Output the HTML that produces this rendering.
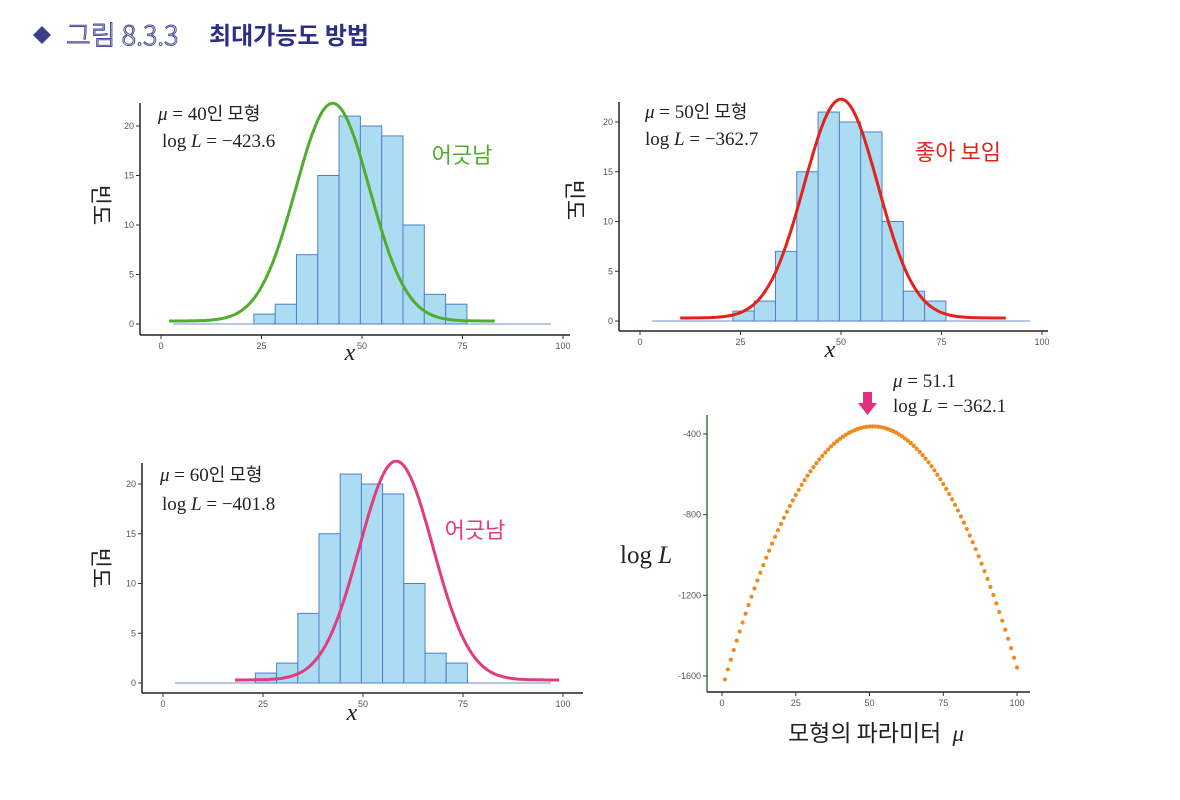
<!DOCTYPE html>
<html><head><meta charset="utf-8">
<style>
html,body{margin:0;padding:0;background:#fff;}
svg{display:block;font-family:"Liberation Sans","Noto Sans CJK KR",sans-serif;}
.tick{font-size:9px;fill:#555;}
.ann{font-family:"Liberation Serif","Noto Sans CJK KR",serif;font-size:19px;fill:#222;}
</style></head>
<body>
<svg id="chart" width="1180" height="800" viewBox="0 0 1180 800" xmlns="http://www.w3.org/2000/svg">
  <g>
    <polygon points="42,26 51,35 42,44 33,35" fill="#3c3f8c"/>
    <text x="66" y="45" font-size="27" fill="none" stroke="#4a4d96" stroke-width="1" style="font-family:'Noto Sans CJK KR',sans-serif;font-weight:300">그림 8.3.3</text>
    <text x="209" y="44" font-size="24" font-weight="bold" fill="#2d2f86" style="font-family:'Noto Sans CJK KR',sans-serif">최대가능도 방법</text>
  </g>
  <g id="panels"></g>
</svg>
<script>
// Histogram data (shared by three panels)
const binEdges = [23.1, 28.4, 33.7, 39.0, 44.3, 49.6, 54.9, 60.2, 65.5, 70.8, 76.1];
const binCounts = [1, 2, 7, 15, 21, 20, 19, 10, 3, 2];
const xTicks = [0, 25, 50, 75, 100];
const yTicks = [0, 5, 10, 15, 20];
// Model curves (drawn peak location, width, height, x-range)
const curveMu = [42.7, 50, 58.3];
const curveSigma = [9.2, 9.2, 9.2];
const curvePeak = [22.0, 22.0, 22.0];
const curveFrom = [2, 10, 18];
const curveTo = [83, 91, 99];
const panelMuLabels = ["40", "50", "60"];
const panelLogL = ["−423.6", "−362.7", "−401.8"];
const panelVerdict = ["어긋남", "좋아 보임", "어긋남"];
// Log-likelihood curve
const muValues = [];
for (let m = 1; m <= 100; m++) muValues.push(m);
const logLValues = [-1617.1,-1567.5,-1518.9,-1471.3,-1424.7,-1379.1,-1334.5,-1290.9,-1248.3,-1206.7,
-1166.1,-1126.5,-1087.9,-1050.3,-1013.7,-978.1,-943.5,-909.9,-877.3,-845.7,
-815.1,-785.5,-756.9,-729.3,-702.7,-677.1,-652.5,-628.9,-606.3,-584.7,
-564.1,-544.5,-525.9,-508.3,-491.7,-476.1,-461.5,-447.9,-435.3,-423.7,
-413.1,-403.5,-394.9,-387.3,-380.7,-375.1,-370.5,-366.9,-364.3,-362.7,
-362.1,-362.5,-363.9,-366.3,-369.7,-374.1,-379.5,-385.9,-393.3,-401.7,
-411.1,-421.5,-432.9,-445.3,-458.7,-473.1,-488.5,-504.9,-522.3,-540.7,
-560.1,-580.5,-601.9,-624.3,-647.7,-672.1,-697.5,-723.9,-751.3,-779.7,
-809.1,-839.5,-870.9,-903.3,-936.7,-971.1,-1006.5,-1042.9,-1080.3,-1118.7,
-1158.1,-1198.5,-1239.9,-1282.3,-1325.7,-1370.1,-1415.5,-1461.9,-1509.3,-1557.7];
const logLTicks = [-400, -800, -1200, -1600];
const muTicks = [0, 25, 50, 75, 100];

const NS = "http://www.w3.org/2000/svg";
const root = document.getElementById("panels");
function mk(tag, attrs, parent, text) {
  const e = document.createElementNS(NS, tag);
  for (const k in attrs) e.setAttribute(k, attrs[k]);
  if (text !== undefined) e.textContent = text;
  (parent || root).appendChild(e);
  return e;
}

const panels = [
  {ax: 140, ay: 335, axEnd: 570, ayTop: 103, x0: 161, x100: 563, y0: 324, y20: 126, color: "#4fae2c",
   lab: [158, 120, 162, 147], verd: [462, 163], ylab: [93, 205], xlab: [350, 360], name: "mu40"},
  {ax: 619, ay: 331, axEnd: 1048, ayTop: 102, x0: 640, x100: 1042, y0: 321, y20: 122, color: "#e3221b",
   lab: [645, 118, 645, 145], verd: [958, 160], ylab: [567, 200], xlab: [830, 357], name: "mu50"},
  {ax: 142, ay: 693, axEnd: 583, ayTop: 463, x0: 163, x100: 563, y0: 683, y20: 484, color: "#e23c7e",
   lab: [160, 481, 162, 510], verd: [475, 538], ylab: [93, 568], xlab: [352, 720], name: "mu60"}
];

panels.forEach((p, i) => {
  const g = mk("g", {});
  
  
  const sx = v => p.x0 + (p.x100 - p.x0) * v / 100;
  const sy = v => p.y0 - (p.y0 - p.y20) * v / 20;
  const ya = mk("line", {x1: p.ax, y1: p.ayTop, x2: p.ax, y2: p.ay, stroke: "#222", "stroke-width": 1.5}, g);
  
  
  const xa = mk("line", {x1: p.ax, y1: p.ay, x2: p.axEnd, y2: p.ay, stroke: "#222", "stroke-width": 1.5}, g);
  
  
  yTicks.forEach(t => {
    mk("line", {x1: p.ax - 4, y1: sy(t), x2: p.ax, y2: sy(t), stroke: "#333"}, g);
    const tl = mk("text", {x: p.ax - 6, y: sy(t) + 3, "text-anchor": "end", class: "tick"}, g, t);
    
    
  });
  xTicks.forEach(t => {
    mk("line", {x1: sx(t), y1: p.ay, x2: sx(t), y2: p.ay + 4, stroke: "#333"}, g);
    const tl = mk("text", {x: sx(t), y: p.ay + 14, "text-anchor": "middle", class: "tick"}, g, t);
    
    
  });
  mk("line", {x1: sx(3), y1: sy(0), x2: sx(97), y2: sy(0), stroke: "#6f8fcf", "stroke-width": 1}, g);
  binCounts.forEach((c, j) => {
    const r = mk("rect", {x: sx(binEdges[j]), y: sy(c), width: sx(binEdges[j + 1]) - sx(binEdges[j]), height: sy(0) - sy(c),
      fill: "#acdcf2", stroke: "#4f7fcc", "stroke-width": 1}, g);
    
    
  });
  let d = "";
  for (let x = curveFrom[i]; x <= curveTo[i] + 1e-9; x += 0.5) {
    const v = 0.3 + curvePeak[i] * Math.exp(-0.5 * Math.pow((x - curveMu[i]) / curveSigma[i], 2));
    d += (d ? "L" : "M") + sx(x).toFixed(1) + "," + sy(v).toFixed(1);
  }
  const cv = mk("path", {d: d, fill: "none", stroke: p.color, "stroke-width": 3}, g);
  
  
  const t1 = mk("text", {x: p.lab[0], y: p.lab[1], class: "ann"}, g);
  
  
  mk("tspan", {"font-style": "italic"}, t1, "μ");
  mk("tspan", {}, t1, " = " + panelMuLabels[i]);
  mk("tspan", {style: "font-family:'Noto Sans CJK KR',sans-serif;font-size:18px"}, t1, "인 모형");
  const t2 = mk("text", {x: p.lab[2], y: p.lab[3], class: "ann"}, g);
  
  
  mk("tspan", {}, t2, "log ");
  mk("tspan", {"font-style": "italic"}, t2, "L");
  mk("tspan", {}, t2, " = " + panelLogL[i]);
  const vt = mk("text", {x: p.verd[0], y: p.verd[1], "text-anchor": "middle", "font-size": 22, fill: p.color, style: "font-family:'Noto Sans CJK KR',sans-serif"}, g, panelVerdict[i]);
  
  
  const yl = mk("text", {x: 0, y: 0, "font-size": 22, fill: "#222", "text-anchor": "middle",
    transform: "translate(" + p.ylab[0] + "," + p.ylab[1] + ") rotate(90)", style: "font-family:'Noto Sans CJK KR',sans-serif"}, g, "빈도");
  
  
  const xl = mk("text", {x: p.xlab[0], y: p.xlab[1], "font-size": 24, "font-style": "italic", "text-anchor": "middle", fill: "#222", style: "font-family:'Liberation Serif',serif"}, g, "x");
  
  
});

(function () {
  const g = mk("g", {});
  
  
  const sx = v => 722 + (1017 - 722) * v / 100;
  const sy = v => 434 + (676 - 434) * (v + 400) / -1200;
  const ya = mk("line", {x1: 707, y1: 415, x2: 707, y2: 692, stroke: "#3a7a3a", "stroke-width": 1.5}, g);
  
  
  const xa = mk("line", {x1: 707, y1: 692, x2: 1030, y2: 692, stroke: "#222", "stroke-width": 1.5}, g);
  
  
  logLTicks.forEach(t => {
    mk("line", {x1: 703, y1: sy(t), x2: 707, y2: sy(t), stroke: "#333"}, g);
    const tl = mk("text", {x: 701, y: sy(t) + 3, "text-anchor": "end", class: "tick"}, g, t);
    
    
  });
  muTicks.forEach(t => {
    mk("line", {x1: sx(t), y1: 692, x2: sx(t), y2: 696, stroke: "#333"}, g);
    const tl = mk("text", {x: sx(t), y: 706, "text-anchor": "middle", class: "tick"}, g, t);
    
    
  });
  muValues.forEach((m, j) => {
    const c = mk("circle", {cx: sx(m), cy: sy(logLValues[j]), r: 2.1, fill: "#f08a1e"}, g);
    
    
  });
  const ar = mk("polygon", {points: "863,392 872,392 872,403 877,403 867.5,415 858,403 863,403", fill: "#e2307a"}, g);
  
  
  const a1 = mk("text", {x: 893, y: 387, class: "ann", "font-size": 19}, g);
  
  
  mk("tspan", {"font-style": "italic"}, a1, "μ");
  mk("tspan", {}, a1, " = 51.1");
  const a2 = mk("text", {x: 893, y: 412, class: "ann"}, g);
  
  
  mk("tspan", {}, a2, "log ");
  mk("tspan", {"font-style": "italic"}, a2, "L");
  mk("tspan", {}, a2, " = −362.1");
  const yl = mk("text", {x: 620, y: 563, "font-size": 25, fill: "#222", style: "font-family:'Liberation Serif',serif"}, g);
  
  
  mk("tspan", {}, yl, "log ");
  mk("tspan", {"font-style": "italic"}, yl, "L");
  const xl = mk("text", {x: 788, y: 741, "font-size": 23, fill: "#222", style: "font-family:'Noto Sans CJK KR',sans-serif"}, g);
  
  
  mk("tspan", {}, xl, "모형의 파라미터 ");
  mk("tspan", {"font-style": "italic", style: "font-family:'Liberation Serif',serif", dx: 6}, xl, "μ");
})();
</script>
</body></html>
